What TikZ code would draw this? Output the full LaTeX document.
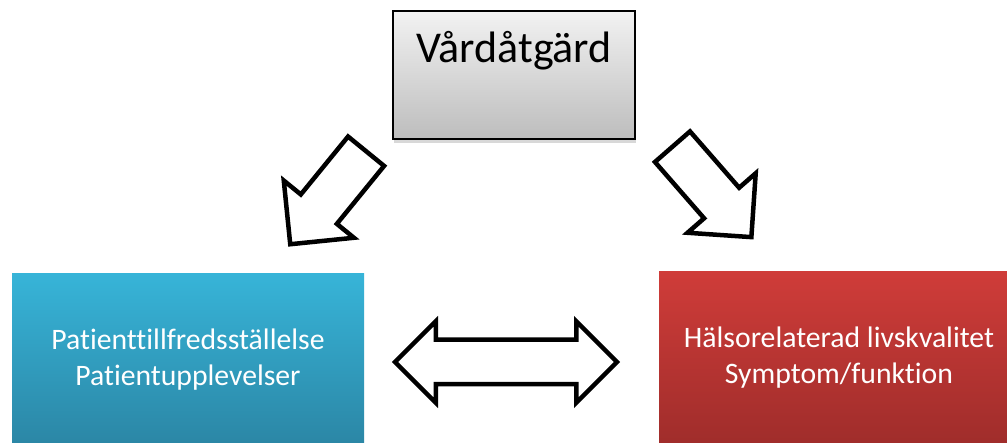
\documentclass[tikz,border=0pt]{standalone}
\usepackage{fontspec}
\setmainfont[Ligatures={NoCommon}]{Carlito}
\usetikzlibrary{shapes.arrows,shadows}
\definecolor{grayTop}{HTML}{F2F2F2}
\definecolor{grayBot}{HTML}{BDBDBD}
\definecolor{blueTop}{HTML}{37B4D8}
\definecolor{blueBot}{HTML}{2B86A5}
\definecolor{redTop}{HTML}{CF3C39}
\definecolor{redBot}{HTML}{A02D2B}
\begin{document}
\begin{tikzpicture}[x=1pt,y=1pt,
  graybox/.style={draw=black, line width=1.3pt, top color=grayTop, bottom color=grayBot,
    minimum width=242pt, inner sep=0pt, text height=52pt, text depth=76pt,
    font=\fontsize{44}{52}\selectfont,
    drop shadow={opacity=0.3, shadow xshift=1pt, shadow yshift=-4pt}},
  colbox/.style={inner sep=0pt, align=center, text=white,
    font=\fontsize{29.7}{36}\selectfont,
    drop shadow={opacity=0.25, shadow xshift=0pt, shadow yshift=-3pt}},
  blockarrow/.style={single arrow, draw=black, fill=white, line width=4.5pt,
    inner xsep=0pt, inner ysep=21pt, minimum height=120pt, minimum width=86pt,
    single arrow head extend=22pt, anchor=tail},
  dblarrow/.style={double arrow, draw=black, fill=white, line width=4.5pt,
    inner xsep=0pt, inner ysep=20pt, minimum height=222pt, minimum width=77pt,
    double arrow head extend=18.5pt}]
\useasboundingbox (0,0) rectangle (1007,442);
\clip (0,0) rectangle (1007,442);
\fill[white] (0,0) rectangle (1007,442);
\node[graybox] (care) at (514,367) {Vårdåtgärd};
\node[colbox, top color=blueTop, bottom color=blueBot, minimum width=352pt, minimum height=172pt]
  (sat) at (188,82) {Patienttillfredsställelse\\Patientupplevelser};
\node[colbox, top color=redTop, bottom color=redBot, minimum width=360pt, minimum height=171pt]
  (hrql) at (839,84.5) {Hälsorelaterad livskvalitet\\Symptom/funktion};
\node[blockarrow, rotate=230.8] (a1) at (367.5,292.5) {};
\node[blockarrow, rotate=-48.9] (a2) at (671,297) {};
\node[dblarrow] (a3) at (506,80) {};
\end{tikzpicture}
\end{document}
